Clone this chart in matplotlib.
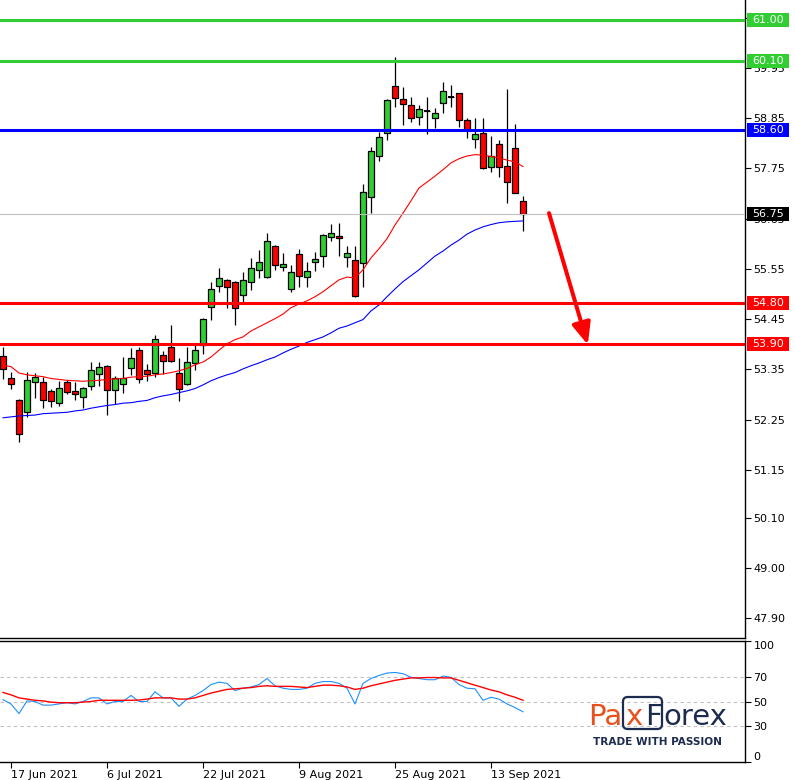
import numpy as np
import pandas as pd
import matplotlib
matplotlib.use("Agg")
import matplotlib.pyplot as plt
import matplotlib.transforms as mtransforms
from matplotlib.patches import Rectangle, FancyBboxPatch

# ---------------- data ----------------
dates = pd.bdate_range("2021-06-16", "2021-09-17", freq="C",
                       holidays=["2021-07-05", "2021-09-06"])

opens = [53.65, 53.16, 52.68, 52.41, 53.08, 53.08, 52.88, 52.61, 53.08, 52.88,
         52.74, 52.99, 53.24, 53.43, 52.90, 53.03, 53.37, 53.78, 53.34, 53.27,
         53.66, 53.85, 53.28, 53.03, 53.49, 53.89, 54.71, 55.18, 55.31, 55.26,
         54.98, 55.27, 55.53, 55.38, 56.05, 55.59, 55.10, 55.87, 55.38, 55.69,
         55.83, 56.24, 56.27, 55.80, 55.75, 55.67, 57.13, 58.02, 58.52, 59.55,
         59.26, 59.14, 58.87, 59.00, 58.86, 59.19, 59.32, 59.39, 58.81, 58.39,
         58.52, 57.79, 58.28, 57.80, 58.19, 57.04]
highs = [53.84, 53.30, 52.70, 53.30, 53.28, 53.19, 52.92, 53.10, 53.12, 53.08,
         52.97, 53.51, 53.52, 53.45, 53.21, 53.63, 53.81, 53.84, 53.47, 54.10,
         53.75, 54.32, 53.59, 53.84, 53.89, 54.47, 55.27, 55.56, 55.32, 55.28,
         55.48, 55.79, 55.96, 56.34, 56.07, 55.89, 55.64, 55.98, 55.71, 55.91,
         56.31, 56.53, 56.56, 56.05, 56.05, 57.40, 58.22, 58.55, 59.27, 60.19,
         59.54, 59.32, 59.14, 59.32, 59.07, 59.65, 59.58, 59.40, 58.85, 58.85,
         58.85, 58.46, 58.37, 59.48, 58.72, 57.15]
lows = [53.14, 52.92, 51.77, 52.30, 52.72, 52.50, 52.52, 52.54, 52.81, 52.68,
        52.50, 52.89, 52.99, 52.35, 52.59, 52.83, 53.23, 53.05, 53.10, 53.19,
        53.25, 53.52, 52.65, 53.01, 53.34, 53.69, 54.42, 55.05, 54.69, 54.32,
        54.83, 55.09, 55.35, 55.36, 55.53, 55.50, 55.05, 55.16, 55.16, 55.50,
        55.60, 56.17, 55.83, 55.60, 54.94, 55.15, 56.77, 57.92, 58.37, 59.10,
        58.70, 58.77, 58.70, 58.50, 58.63, 58.97, 59.09, 58.66, 58.41, 58.19,
        57.73, 57.66, 57.57, 56.99, 57.21, 56.37]
closes = [53.35, 53.03, 51.93, 53.12, 53.18, 52.67, 52.65, 52.94, 52.86, 52.81,
          52.94, 53.34, 53.41, 52.89, 53.16, 53.17, 53.59, 53.14, 53.25, 54.01,
          53.54, 53.54, 52.93, 53.51, 53.78, 54.45, 55.10, 55.35, 55.16, 54.69,
          55.31, 55.57, 55.70, 56.16, 55.64, 55.66, 55.48, 55.40, 55.51, 55.76,
          56.29, 56.33, 56.22, 55.89, 54.96, 57.23, 58.13, 58.43, 59.25, 59.30,
          59.15, 58.86, 59.04, 59.00, 58.96, 59.44, 59.32, 58.80, 58.59, 58.50,
          57.75, 58.02, 57.77, 57.45, 57.22, 56.75]

ma_fast = [53.44, 53.41, 53.27, 53.23, 53.21, 53.19, 53.15, 53.13, 53.11, 53.10,
           53.09, 53.10, 53.11, 53.13, 53.14, 53.15, 53.18, 53.19, 53.20, 53.23,
           53.25, 53.28, 53.32, 53.37, 53.45, 53.51, 53.62, 53.77, 53.91, 54.00,
           54.06, 54.19, 54.28, 54.37, 54.46, 54.56, 54.70, 54.78, 54.85, 54.94,
           55.05, 55.18, 55.31, 55.37, 55.35, 55.53, 55.79, 55.99, 56.21, 56.51,
           56.77, 57.04, 57.32, 57.45, 57.58, 57.72, 57.87, 57.96, 58.02, 58.05,
           58.04, 58.01, 57.98, 57.93, 57.89, 57.79]
ma_slow = [52.29, 52.31, 52.33, 52.34, 52.35, 52.38, 52.39, 52.40, 52.41, 52.44,
           52.46, 52.50, 52.53, 52.56, 52.58, 52.61, 52.62, 52.65, 52.67, 52.73,
           52.77, 52.80, 52.84, 52.88, 52.93, 53.01, 53.10, 53.17, 53.23, 53.28,
           53.36, 53.43, 53.49, 53.56, 53.62, 53.71, 53.79, 53.86, 53.94, 54.00,
           54.06, 54.15, 54.25, 54.30, 54.37, 54.44, 54.63, 54.76, 54.94, 55.11,
           55.27, 55.40, 55.53, 55.68, 55.83, 55.94, 56.07, 56.18, 56.31, 56.40,
           56.47, 56.52, 56.56, 56.58, 56.59, 56.60]

osc = [51.5, 48, 40, 50.5, 50, 47, 47, 48, 49, 48,
       50, 53, 53, 48, 50, 50, 55, 50, 50, 58,
       53, 53, 46, 52, 55, 59, 64, 66, 65, 59,
       61, 62, 64, 69, 63, 61, 60, 60, 61, 65,
       66.5, 66.5, 65, 61, 48, 65, 69, 71.5, 73.5, 74,
       73, 70, 69, 68, 68, 71, 70, 64, 61, 60.5,
       51, 53.5, 52, 48, 45, 41.5]
osc_signal = [57.5, 55.5, 53, 52, 51, 50.5, 49.5, 49, 49, 49,
              49.5, 50, 51, 51, 51, 51, 51, 51.2, 52, 53,
              53, 53, 52, 52, 53, 55, 57, 58.5, 60, 60.5,
              61, 61.5, 62.5, 63, 62.5, 62.5, 62.5, 62, 61.5, 62.5,
              63.5, 63.5, 63, 62, 60, 61, 63, 64.5, 66, 67.5,
              68.5, 69.5, 69.5, 69.8, 69.8, 69.5, 69.5, 67.5, 65.5, 63.5,
              61.5, 59.5, 58, 55.5, 53.5, 51]

level_prices = [61.00, 60.10, 58.60, 54.80, 53.90]
level_colors = ["#32CD32", "#32CD32", "#0000FF", "#FF0000", "#FF0000"]
current_price = 56.75

price_ticks = [47.90, 49.00, 50.10, 51.15, 52.25, 53.35, 54.45, 55.55,
               56.65, 57.75, 58.85, 59.95, 61.05]
osc_ticks = [0, 30, 50, 70, 100]
osc_levels = [30, 50, 70]
date_ticks = ["2021-06-17", "2021-07-06", "2021-07-22", "2021-08-09",
              "2021-08-25", "2021-09-13"]

# ---------------- figure ----------------
W, H = 795, 780
fig = plt.figure(figsize=(W / 100, H / 100), dpi=100)
plt.rcParams["font.family"] = ["DejaVu Sans"]

AX_R = 745 / W
ax1 = fig.add_axes([0, (H - 638) / H, AX_R, 638 / H])
ax2 = fig.add_axes([0, (H - 762) / H, AX_R, (762 - 641) / H])

n = len(closes)
x = np.arange(n)
o = np.array(opens); c = np.array(closes)
hi = np.array(highs); lo = np.array(lows)

xlim = (-0.375, -0.375 + 745 / 8)
ax1.set_xlim(*xlim)
ax1.set_ylim(47.47, 61.435)

# candles
ax1.vlines(x, lo, hi, color="black", lw=0.9, zorder=3)
body_bot = np.minimum(o, c)
body_h = np.abs(c - o)
cols = np.where(c > o, "#32CD32", np.where(c < o, "#FF0000", "black"))
ax1.bar(x, body_h, bottom=body_bot, width=0.72, color=cols,
        edgecolor="black", linewidth=0.9, zorder=4)
doji = body_h == 0
ax1.hlines(c[doji], x[doji] - 0.36, x[doji] + 0.36, color="black", lw=1.4, zorder=5)

# moving averages
ax1.plot(x, ma_fast, color="#FF0000", lw=0.8, zorder=6)
ax1.plot(x, ma_slow, color="#0000FF", lw=0.8, zorder=6)

# levels
ax1.axhline(current_price, color="#C0C0C0", lw=0.8, zorder=6)
for p, col in zip(level_prices, level_colors):
    ax1.axhline(p, color=col, lw=2.2, zorder=7)

# arrow
ax1.annotate("", xy=(73.1, 53.89), xytext=(68.25, 56.77),
             arrowprops=dict(arrowstyle="-|>,head_length=0.65,head_width=0.28",
                             color="#FF0000", lw=2.9, mutation_scale=20,
                             shrinkA=0, shrinkB=0), zorder=8)

# axes style upper
for s in ["top", "left"]:
    ax1.spines[s].set_visible(False)
ax1.spines["right"].set_linewidth(1.0)
ax1.spines["bottom"].set_linewidth(1.0)
ax1.set_xticks([])
ax1.yaxis.tick_right()
ax1.set_yticks(price_ticks)
ax1.set_yticklabels([f"{v:.2f}" for v in price_ticks])
ax1.tick_params(axis="y", direction="out", length=4, width=0.8, labelsize=8, pad=2)

# price labels on axis (drawn over the scale, as in the terminal)
trans = mtransforms.blended_transform_factory(ax1.transAxes, ax1.transData)
ax_w_px = AX_R * W
box_h = 14 * (61.435 - 47.47) / 638
label_items = list(zip(level_prices, level_colors)) + [(current_price, "black")]
for p, col in label_items:
    ax1.add_patch(Rectangle((747 / ax_w_px, p - box_h / 2), 42 / ax_w_px, box_h,
                            transform=trans, facecolor=col, edgecolor="none",
                            clip_on=False, zorder=10))
    ax1.text(768 / ax_w_px, p, f"{p:.2f}", transform=trans, ha="center", va="center",
             color="white", fontsize=8, zorder=11, clip_on=False)

# lower panel
ax2.set_xlim(*xlim)
ax2.set_ylim(0, 100)
ax2.plot(x, osc, color="#1E90FF", lw=0.8, zorder=4)
ax2.plot(x, osc_signal, color="#FF0000", lw=1.0, zorder=5)
for lv in osc_levels:
    ax2.axhline(lv, color="#C0C0C0", lw=0.8, ls=(0, (3, 3)), zorder=2)
ax2.spines["left"].set_visible(False)
for s in ["top", "bottom", "right"]:
    ax2.spines[s].set_linewidth(1.0)
ax2.yaxis.tick_right()
ax2.set_yticks(osc_ticks)
ax2.set_yticklabels([str(v) for v in osc_ticks])
ax2.tick_params(axis="y", direction="out", length=4, width=0.8, labelsize=8, pad=2)
for lab in ax2.get_yticklabels():
    if lab.get_text() == "100":
        lab.set_va("top")
    elif lab.get_text() == "0":
        lab.set_va("bottom")

tick_idx = [int(np.where(dates == pd.Timestamp(d))[0][0]) for d in date_ticks]
ax2.set_xticks(tick_idx)
ax2.set_xticklabels([f"{dates[i].day} {dates[i]:%b %Y}" for i in tick_idx], ha="left")
ax2.tick_params(axis="x", direction="out", length=4, width=0.8, labelsize=8, pad=2)

# logo
navy = "#1D2B4F"
orange = "#E8501E"
def fx(px):
    return px / W
def fy(py):
    return 1 - py / H
logo_fs = 21
fig.text(fx(588), fy(725), "Pa", color=orange, fontsize=logo_fs, va="baseline", ha="left")
fig.text(fx(625), fy(725), "x", color=orange, fontsize=logo_fs, va="baseline", ha="left")
fig.text(fx(645), fy(725), "F", color=navy, fontsize=logo_fs, va="baseline", ha="left")
fig.text(fx(663), fy(725), "orex", color=navy, fontsize=logo_fs, va="baseline", ha="left")
fig.patches.append(FancyBboxPatch((fx(623), fy(729)), fx(662) - fx(623), fy(697) - fy(729),
                                  boxstyle="round,pad=0,rounding_size=0.006",
                                  transform=fig.transFigure, facecolor="none",
                                  edgecolor=navy, linewidth=1.6, figure=fig))
fig.text(fx(657.5), fy(742), "TRADE WITH PASSION", color=navy, fontsize=7.6,
         fontweight="bold", ha="center", va="center")

fig.savefig("out.png", dpi=100)
